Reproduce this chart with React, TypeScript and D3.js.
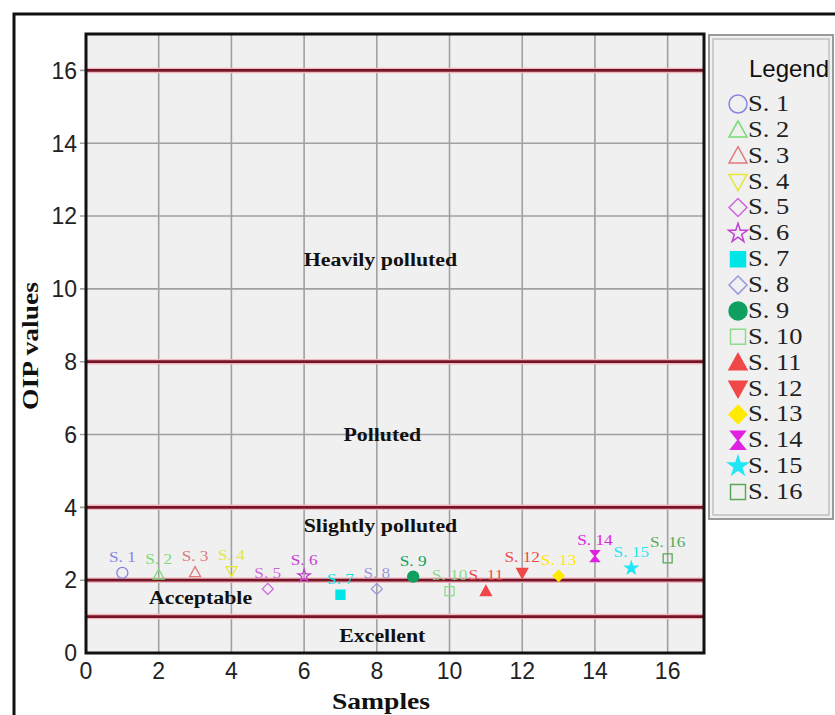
import React from "react";
import * as d3 from "d3";

// samples and their OIP values
const sampleNames = ["S. 1", "S. 2", "S. 3", "S. 4", "S. 5", "S. 6", "S. 7", "S. 8", "S. 9", "S. 10", "S. 11", "S. 12", "S. 13", "S. 14", "S. 15", "S. 16"];
const sampleIndex = [1, 2, 3, 4, 5, 6, 7, 8, 9, 10, 11, 12, 13, 14, 15, 16];
const oipValues = [2.2, 2.15, 2.22, 2.25, 1.76, 2.12, 1.6, 1.76, 2.1, 1.7, 1.7, 2.2, 2.12, 2.66, 2.33, 2.6];
const markerShapes = ["circle", "triangle", "triangle", "triangleDown", "diamond", "star", "square", "diamond", "circle", "square", "triangle", "triangleDown", "diamond", "hourglass", "star", "square"];
const markerFilled = [false, false, false, false, false, false, true, false, true, false, true, true, true, true, true, false];
const markerColors = ["#8585e0", "#76dc76", "#e07a7a", "#e6e63c", "#cc66dd", "#c23fd2", "#00e6e6", "#9898dc", "#0fa060", "#8cdc8c", "#f04848", "#f04848", "#ffea00", "#e020e0", "#22e6f6", "#5aa85a"];

// pollution classes
const classBounds = [1, 2, 4, 8, 16];
const classNames = ["Heavily polluted", "Polluted", "Slightly polluted", "Acceptable", "Excellent"];
const classLabelX = [8.1, 8.15, 8.1, 3.15, 8.15];
const classLabelY = [10.63, 5.82, 3.32, 1.35, 0.3];

const xTicks = [0, 2, 4, 6, 8, 10, 12, 14, 16];
const yTicks = [0, 2, 4, 6, 8, 10, 12, 14, 16];

const SERIF = '"Liberation Serif", "Times New Roman", serif';
const SANS = '"Liberation Sans", Arial, sans-serif';

const shapePath = (shape: string, r: number): string => {
  switch (shape) {
    case "circle":
      return d3.symbol(d3.symbolCircle, Math.PI * r * r)() as string;
    case "square":
      return `M${-r},${-r}H${r}V${r}H${-r}Z`;
    case "triangle":
      return `M0,${-r}L${r},${r * 0.8}L${-r},${r * 0.8}Z`;
    case "triangleDown":
      return `M0,${r}L${r},${-r * 0.8}L${-r},${-r * 0.8}Z`;
    case "diamond":
      return `M0,${-r}L${r},0L0,${r}L${-r},0Z`;
    case "star":
      return d3.symbol(d3.symbolStar, (r * r) / 0.8908130915292852)() as string;
    case "hourglass":
      return `M${-r * 0.8},${-r}H${r * 0.8}L0,0L${r * 0.8},${r}H${-r * 0.8}L0,0Z`;
    default:
      return "";
  }
};

const App = () => {
  const width = 835;
  const height = 715;
  const plot = { left: 86, top: 34, right: 704, bottom: 653 };

  const xScale = d3.scaleLinear().domain([0, 17]).range([plot.left, plot.right]);
  const yScale = d3.scaleLinear().domain([0, 17]).range([plot.bottom, plot.top]);

  const legendX = 709;
  const legendY = 35;
  const legendRow = d3.scaleLinear().domain([0, 15]).range([104, 492]);

  return (
    <div style={{ position: "absolute", left: 0, top: 0 }}>
      <svg width={width} height={height} style={{ display: "block", background: "#fff" }}>
        {/* outer frame */}
        <rect x={14} y={14} width={900} height={800} fill="#fff" stroke="#111" strokeWidth={3} />

        {/* plot background */}
        <rect x={plot.left} y={plot.top} width={plot.right - plot.left} height={plot.bottom - plot.top} fill="#f0f0f0" />

        {/* grid */}
        {xTicks.filter((t) => t > 0).map((t) => (
          <line key={"gx" + t} x1={xScale(t)} x2={xScale(t)} y1={plot.top} y2={plot.bottom} stroke="#a0a0a0" strokeWidth={1.6} />
        ))}
        {yTicks.filter((t) => t > 0).map((t) => (
          <line key={"gy" + t} x1={plot.left - 6} x2={plot.right} y1={yScale(t)} y2={yScale(t)} stroke="#a0a0a0" strokeWidth={1.6} />
        ))}

        {/* class boundary lines */}
        {classBounds.map((b) => (
          <g key={"cb" + b}>
            <line x1={plot.left} x2={plot.right} y1={yScale(b)} y2={yScale(b)} stroke="#f1b6bd" strokeWidth={5.5} />
            <line x1={plot.left} x2={plot.right} y1={yScale(b)} y2={yScale(b)} stroke="#741427" strokeWidth={2.8} />
          </g>
        ))}

        {/* class labels */}
        {classNames.map((name, i) => (
          <text
            key={name}
            transform={`translate(${xScale(classLabelX[i])},${yScale(classLabelY[i])}) scale(1.15,1)`}
            textAnchor="middle"
            fontFamily={SERIF}
            fontWeight="bold"
            fontSize={19}
            fill="#111"
          >
            {name}
          </text>
        ))}

        {/* points and their labels */}
        {sampleIndex.map((s, i) => {
          const px = xScale(s);
          const py = yScale(oipValues[i]);
          const filled = markerFilled[i];
          const r = markerShapes[i] === "square" ? 4.5 : markerShapes[i] === "star" ? 6.5 : 5.5;
          return (
            <g key={sampleNames[i]}>
              <path
                d={shapePath(markerShapes[i], r)}
                transform={`translate(${px},${py})`}
                fill={filled ? markerColors[i] : "none"}
                stroke={markerColors[i]}
                strokeWidth={1.3}
              />
              <text
                transform={`translate(${px},${py - 11}) scale(1.15,1)`}
                textAnchor="middle"
                fontFamily={SERIF}
                fontSize={15}
                fill={markerColors[i]}
              >
                {sampleNames[i]}
              </text>
            </g>
          );
        })}

        {/* plot frame */}
        <rect x={plot.left} y={plot.top} width={plot.right - plot.left} height={plot.bottom - plot.top} fill="none" stroke="#111" strokeWidth={3} />

        {/* axes tick labels */}
        {yTicks.map((t) => (
          <text key={"yt" + t} x={plot.left - 9} y={yScale(t)} dy="0.36em" textAnchor="end" fontFamily={SANS} fontSize={23} fill="#222">
            {t}
          </text>
        ))}
        {xTicks.map((t) => (
          <text key={"xt" + t} x={xScale(t)} y={679} textAnchor="middle" fontFamily={SANS} fontSize={23} fill="#222">
            {t}
          </text>
        ))}

        {/* axis titles */}
        <text transform={`translate(381,709) scale(1.15,1)`} textAnchor="middle" fontFamily={SERIF} fontWeight="bold" fontSize={24} fill="#111">
          Samples
        </text>
        <text transform={`translate(38,346) rotate(-90) scale(1.15,1)`} textAnchor="middle" fontFamily={SERIF} fontWeight="bold" fontSize={24} fill="#111">
          OIP values
        </text>

        {/* legend */}
        <rect x={legendX} y={legendY} width={124} height={484} fill="#f0f0f0" stroke="#9a9a9a" strokeWidth={2} />
        <rect x={legendX + 4} y={legendY + 4} width={116} height={476} fill="none" stroke="#b4b4b4" strokeWidth={1.2} />
        <text x={789} y={77} textAnchor="middle" fontFamily={SANS} fontSize={24} fill="#111">
          Legend
        </text>
        {sampleNames.map((name, i) => {
          const cy = legendRow(i);
          const filled = markerFilled[i];
          const r = markerShapes[i] === "square" ? 7.5 : markerShapes[i] === "star" ? 10 : 9;
          return (
            <g key={"lg" + name}>
              <path
                d={shapePath(markerShapes[i], r)}
                transform={`translate(738,${cy})`}
                fill={filled ? markerColors[i] : "none"}
                stroke={markerColors[i]}
                strokeWidth={1.5}
              />
              <text transform={`translate(748,${cy + 7}) scale(1.15,1)`} fontFamily={SERIF} fontSize={23} fill="#222">
                {name}
              </text>
            </g>
          );
        })}
      </svg>
    </div>
  );
};

export default App;
